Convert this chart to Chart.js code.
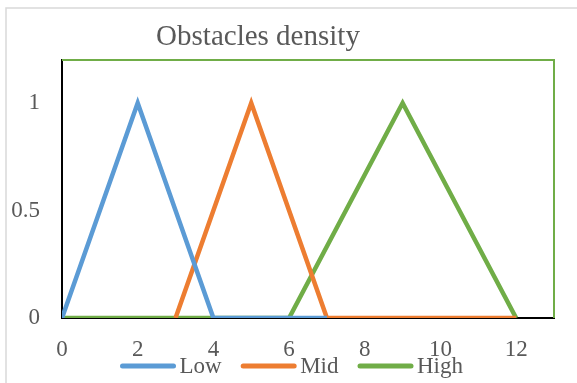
<!DOCTYPE html>
<html>
<head>
<meta charset="utf-8">
<script src="https://cdn.jsdelivr.net/npm/chart.js@4"></script>
<style>
  html, body { margin: 0; padding: 0; background: #ffffff; }
  #wrap { width: 577px; height: 383px; position: relative; }
</style>
</head>
<body>
<div id="wrap"><canvas id="c" width="577" height="383"></canvas></div>
<script>
// Membership functions of obstacle density
const seriesNames = ['Low', 'Mid', 'High'];
const lowX  = [0, 2, 4, 7];
const lowY  = [0, 1, 0, 0];
const midX  = [3, 5, 7, 12];
const midY  = [0, 1, 0, 0];
const highX = [0, 6, 9, 12];
const highY = [0, 0, 1, 0];
const xTicks = [0, 2, 4, 6, 8, 10, 12];
const yTicks = [0, 0.5, 1];
const titleText = 'Obstacles density';

const colors = ['#5B9BD5', '#ED7D31', '#70AD47'];
const textColor = '#595959';
const serif = "'Liberation Serif', 'Times New Roman', serif";

function toPoints(xs, ys) { return xs.map((x, i) => ({ x: x, y: ys[i] })); }

const frameAndLabels = {
  id: 'frameAndLabels',
  beforeDraw(chart) {
    const ctx = chart.ctx;
    ctx.save();
    ctx.strokeStyle = '#D9D9D9';
    ctx.lineWidth = 1.5;
    ctx.beginPath();
    ctx.moveTo(577, 8);
    ctx.lineTo(6, 8);
    ctx.lineTo(6, 383);
    ctx.stroke();
    ctx.restore();
  },
  beforeDatasetsDraw(chart) {
    const ctx = chart.ctx, a = chart.chartArea;
    ctx.save();
    ctx.strokeStyle = '#70AD47';
    ctx.lineWidth = 2;
    ctx.beginPath();
    ctx.moveTo(a.left, a.top);
    ctx.lineTo(a.right, a.top);
    ctx.lineTo(a.right, a.bottom);
    ctx.stroke();
    ctx.restore();
  },
  afterDraw(chart) {
    const ctx = chart.ctx;
    ctx.save();
    // title
    ctx.fillStyle = textColor;
    ctx.font = '29px ' + serif;
    ctx.textAlign = 'center';
    ctx.textBaseline = 'alphabetic';
    ctx.fillText(titleText, 258, 45);

    // legend
    ctx.font = '23px ' + serif;
    ctx.textAlign = 'left';
    const lineLen = 51, cap = 2.5, textGap = 59.5, itemGap = 19, ly = 366;
    const items = chart.data.datasets.map(ds => ({
      label: ds.label, color: ds.borderColor, w: ctx.measureText(ds.label).width
    }));
    let total = 0;
    items.forEach((it, i) => { total += textGap + it.w + (i < items.length - 1 ? itemGap : 0); });
    let sx = 291.5 - total / 2;
    items.forEach(it => {
      ctx.strokeStyle = it.color;
      ctx.lineWidth = 5;
      ctx.lineCap = 'round';
      ctx.beginPath();
      ctx.moveTo(sx + cap, ly);
      ctx.lineTo(sx + cap + lineLen, ly);
      ctx.stroke();
      ctx.fillStyle = textColor;
      ctx.fillText(it.label, sx + textGap, 373);
      sx += textGap + it.w + itemGap;
    });
    ctx.restore();
  }
};

new Chart(document.getElementById('c'), {
  type: 'line',
  data: {
    datasets: [
      { label: seriesNames[0], data: toPoints(lowX, lowY), borderColor: colors[0] },
      { label: seriesNames[1], data: toPoints(midX, midY), borderColor: colors[1] },
      { label: seriesNames[2], data: toPoints(highX, highY), borderColor: colors[2] }
    ].map(ds => Object.assign(ds, {
      borderWidth: 4.5, pointRadius: 0, tension: 0, fill: false, backgroundColor: ds.borderColor
    }))
  },
  options: {
    responsive: false,
    animation: false,
    layout: { padding: { top: 60, right: 23, bottom: 0, left: 0 } },
    plugins: {
      legend: { display: false },
      title: { display: false },
      tooltip: { enabled: false }
    },
    scales: {
      x: {
        type: 'linear', min: 0, max: 13,
        afterBuildTicks: s => { s.ticks = xTicks.map(v => ({ value: v })); },
        afterFit: s => { s.height = 65; },
        grid: { display: false, drawTicks: false },
        border: { display: true, color: '#000000', width: 2 },
        ticks: { color: textColor, font: { family: serif, size: 23 }, padding: 18, maxRotation: 0,
                 callback: v => String(v) }
      },
      y: {
        type: 'linear', min: 0, max: 1.2,
        afterBuildTicks: s => { s.ticks = yTicks.map(v => ({ value: v })); },
        afterFit: s => { s.width = 62; },
        grid: { display: false, drawTicks: false },
        border: { display: true, color: '#000000', width: 2 },
        ticks: { color: textColor, font: { family: serif, size: 23 }, padding: 22,
                 callback: v => String(v) }
      }
    }
  },
  plugins: [frameAndLabels]
});
</script>
</body>
</html>
